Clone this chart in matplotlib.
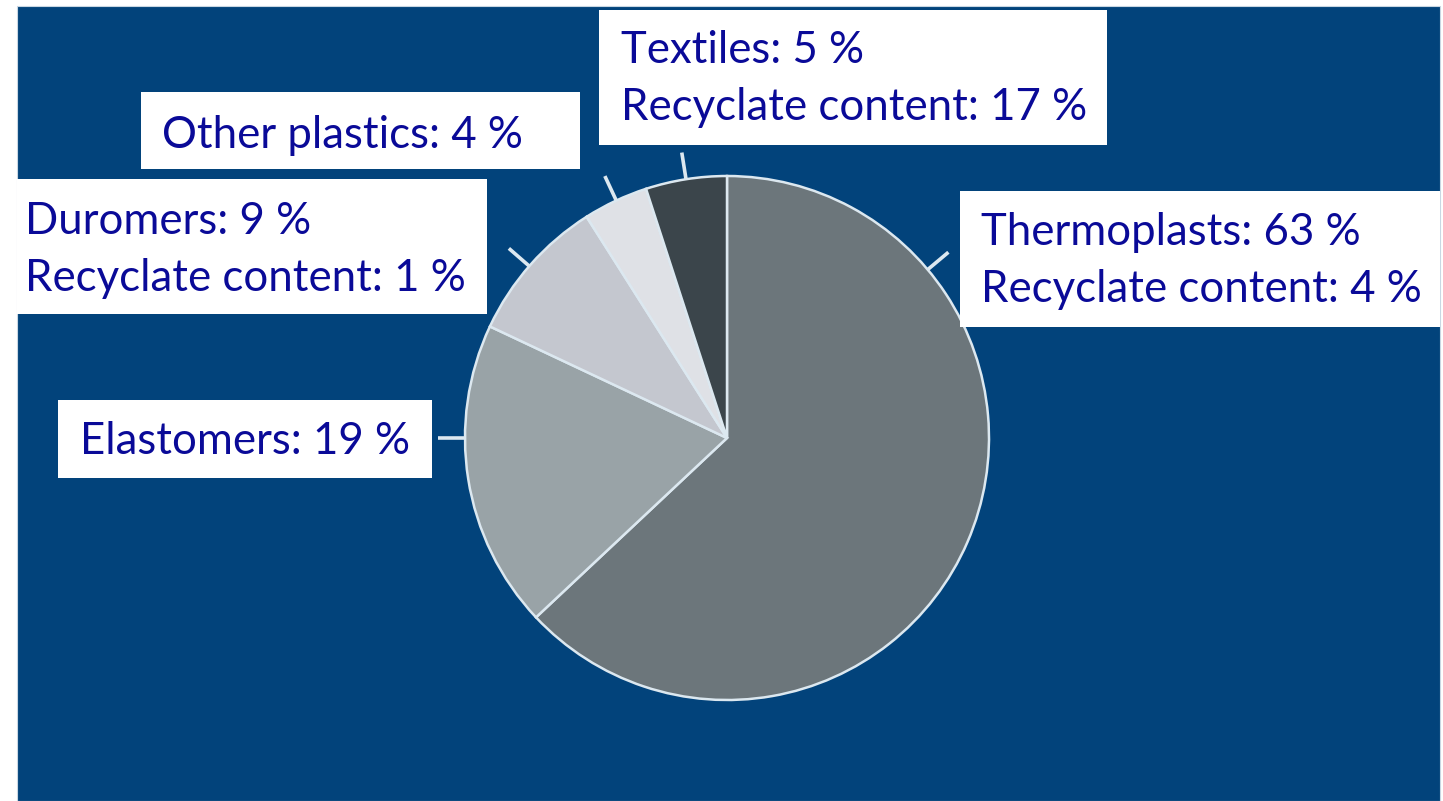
import matplotlib
matplotlib.use('Agg')
import numpy as np
import matplotlib.pyplot as plt
from matplotlib.patches import Rectangle

# data, clockwise from 12 o'clock
categories = ['Thermoplasts', 'Elastomers', 'Duromers', 'Other plastics', 'Textiles']
shares = [63, 19, 9, 4, 5]
recyclate = [4, None, 1, None, 17]
colors = ['#6c767b', '#99a3a7', '#c4c7cf', '#dfe1e6', '#3b454b']

W, H = 1443, 801
BG = '#02437b'
TXT = '#0a0a98'
EDGE = '#dce8f0'
FONT = 'Lato'
FS = 31.5

# layout in pixel coords (y down): box (x0, y0, x1, y1), text x, first baseline
boxes = {
    'Thermoplasts':   ((960, 191, 1440, 327), 981, 245),
    'Elastomers':     ((58, 400, 432, 478), 80, 454),
    'Duromers':       ((17, 179, 487, 314), 25, 234),
    'Other plastics': ((141, 92, 580, 169), 162, 148),
    'Textiles':       ((599, 10, 1107, 145), 621, 63),
}
tick_angles = [40, 180, 139, 115, 99]
LINE_GAP = 57

CX, CY, R = 727, 438, 262

fig = plt.figure(figsize=(W / 100, H / 100), dpi=100)
fig.patch.set_facecolor('white')
ax = fig.add_axes([0, 0, 1, 1])

def fy(y):
    return H - y

# blue panel
ax.add_patch(Rectangle((17, 0), 1440 - 17, fy(6), facecolor=BG,
                       edgecolor='#c9d7e3', linewidth=0.8, zorder=0))

ax.pie(shares, colors=colors, startangle=90, counterclock=False,
       center=(CX, fy(CY)), radius=R,
       wedgeprops=dict(edgecolor=EDGE, linewidth=1.8), frame=False)

# small leader ticks
for a in tick_angles:
    t = np.deg2rad(a)
    ax.plot([CX + R * np.cos(t), CX + (R + 27) * np.cos(t)],
            [fy(CY) + R * np.sin(t), fy(CY) + (R + 27) * np.sin(t)],
            color=EDGE, lw=2.6, solid_capstyle='butt', zorder=3)

for cat, sh, rc in zip(categories, shares, recyclate):
    (x0, y0, x1, y1), tx, base = boxes[cat]
    ax.add_patch(Rectangle((x0, fy(y1)), x1 - x0, y1 - y0,
                           facecolor='white', edgecolor='none', zorder=4))
    ax.text(tx, fy(base), f'{cat}: {sh} %', color=TXT, fontsize=FS,
            family=FONT, va='baseline', ha='left', zorder=5)
    if rc is not None:
        ax.text(tx, fy(base + LINE_GAP), f'Recyclate content: {rc} %',
                color=TXT, fontsize=FS, family=FONT, va='baseline',
                ha='left', zorder=5)

ax.set_xlim(0, W)
ax.set_ylim(0, H)
ax.set_aspect('auto')
ax.axis('off')

fig.savefig('out.png', dpi=100, facecolor='white')
